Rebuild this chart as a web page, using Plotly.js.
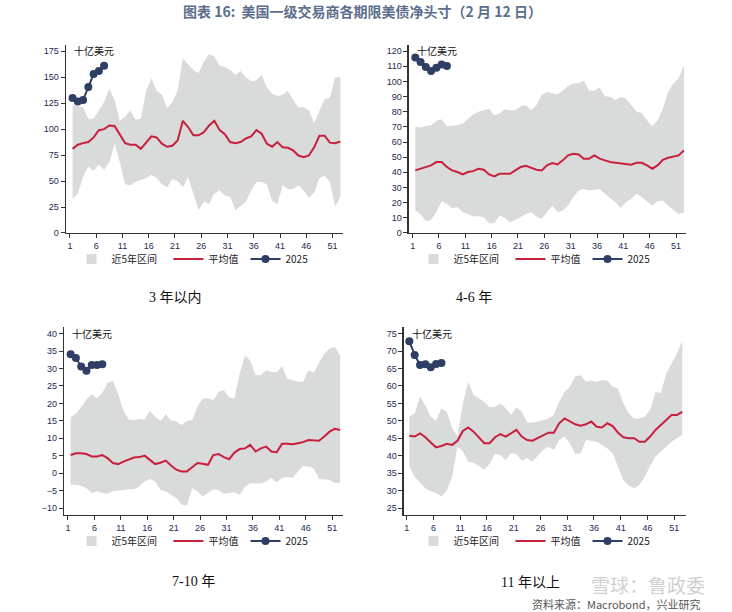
<!DOCTYPE html>
<html>
<head>
<meta charset="utf-8">
<script src="https://cdn.plot.ly/plotly-3.0.1.min.js"></script>
<style>html,body{margin:0;padding:0;background:#fff}</style>
</head>
<body>
<div id="chart" style="width:732px;height:612px"></div>
<script>
/* weekly net positions of primary dealers, by maturity bucket (bn USD) */
var weeks = [];
for (var w = 1; w <= 52; w++) weeks.push(w);
var tickWeeks = [1, 6, 11, 16, 21, 26, 31, 36, 41, 46, 51];

// 3 年以内
var lo1 = [33,38,54,64,60,66,61,68,86,68,47,46,49,51,53,56,53,47,44,52,50,44,54,38,22,30,28,38,41,36,35,22,26,30,41,49,49,47,31,28,46,42,42,46,41,34,39,53,55,49,25,35];
var hi1 = [124,122,121,110,110,118,126,139,128,108,112,118,109,110,137,149,137,133,120,126,137,168,163,157,154,165,172,170,161,160,157,152,156,150,146,147,152,140,134,132,133,137,128,121,121,118,106,118,129,130,150,150];
var avg1 = [81,85,86.5,87.5,92,99,100,103.5,103,95,86.5,85,85,81,87.5,93,92,86,83,84,89,108,102,94,94,97,103.5,108,99,95,87.5,86.5,87.5,91,93,99,95.5,86,83,87.5,82.5,82,79.5,74.6,73,74.6,82.5,93.6,93.6,87,86.5,88];
var y25_1 = [130,126.5,128,140.5,153,156,161];

// 4-6 年
var lo2 = [14.8,12.6,7.7,8.6,13.7,21,19.2,16.5,17,13.7,12.6,10.8,11,10.4,6.4,6.4,11.5,10,7,8.6,10.4,12.6,13.7,10.8,9.3,13.7,18,13.7,14.8,18,23.6,28,29,28,28.7,29,25.8,23.2,20.3,16.5,20.3,22.5,25.8,23.6,21,18,21,21.4,18,15.2,12.6,13.7];
var hi2 = [70,69.5,70.6,71,74,75,70.4,70.6,71,72,75.4,78.3,80,81,82,77.7,78.8,81.6,81,81,83.6,84.4,81,84.4,91,93,92,91.3,93.8,96.9,98.6,99,100.4,94,93.8,96,90.2,89.8,87.6,89.8,88.7,84.4,80,79.2,74.3,70.4,74.3,82,93,98.6,102,110.7];
var avg2 = [41.3,42.4,43,44.6,46.8,46.8,43.5,41.3,40.2,38.6,40.2,40.8,42.4,41.7,38.6,37.3,39,39,39,41.3,43.5,44.3,43,41.7,41.3,44.6,46.1,45.2,47.9,51.2,52.3,51.8,49,49,51.2,49,47.9,46.8,46.3,45.7,45.2,45,46.3,46.3,44.6,42.4,44.6,48.3,49.6,50.5,51.2,54.5];
var y25_2 = [115.8,112.7,109.4,106.8,109,111.2,110.1];

// 7-10 年
var lo3 = [-3.3,-3.3,-3.6,-4.3,-5.7,-5.2,-5.7,-5.9,-5.2,-4.9,-4.8,-4.6,-4.6,-3.8,-2.4,-1.7,-2.4,-4.8,-5.2,-6.2,-7.1,-9,-9.3,-4.3,-5.2,-6.7,-5.7,-4.6,-4.8,-5.9,-5.7,-5.5,-6.2,-3.8,-2.9,-2.9,-3,-2.4,-1.4,-2.7,-1.4,-1.1,-1.4,0.5,2.1,1.9,1.4,-1.7,-1.7,-1.9,-2.9,-2.7];
var hi3 = [16,17.1,18.9,21.1,22.7,21.4,23,25.9,26.5,22.7,17.9,15.4,15.2,15.5,15.4,17.9,16.2,15,16.9,15.2,14.8,13.8,15,15.2,19.2,21.4,21.4,21,23.3,23.8,21.7,21.4,28.6,33.8,32.2,28.1,28.1,29.5,29,29,30.7,27.1,26.7,26.2,26.2,29.5,28.8,31.4,34.3,35.7,36.2,33.8];
var avg3 = [5.2,5.7,5.7,5.5,4.8,4.8,5.2,4.3,2.9,2.6,3.3,3.8,4.5,4.6,5,3.8,2.6,3,3.6,2.2,1,0.5,0.5,1.7,2.9,2.7,2.4,5.2,5.5,4.6,4,5.9,6.9,7.1,8.1,6.2,7.1,7.6,6.2,6,8.4,8.4,8.3,8.6,8.9,9.5,9.3,9.3,10.5,11.9,12.7,12.4];
var y25_3 = [34.1,33,30.6,29.4,31,31,31.2];

// 11 年以上
var lo4 = [36.9,34,32.3,30.7,29.8,29.3,28.3,30,34,42.6,41.2,38.3,37.9,37.1,36,37.7,40.5,40.2,38.8,40.7,40.5,38.6,39.3,38.3,40,41.7,42.6,41.7,44.5,45.5,43.6,40.5,40.7,44.5,44.3,44,43.1,42.1,40.7,36.9,32.9,31.4,30.7,31.7,34,37.1,39.8,41.2,42.6,44,45,46];
var hi4 = [51.2,52.1,56.9,54.5,51.2,50,53.6,52.6,47.9,45.5,55,61.2,57.4,56.4,55.5,53.9,54,55,53.6,51.7,53.9,52.6,49.5,49.5,49.8,50.2,50.7,51.7,55.5,58.3,59.8,62.8,63.1,61.2,61.5,61.2,61.7,61.5,59.8,59.3,55,52.1,50.7,50.7,51.2,53.1,58.3,58,63.6,66.4,69.3,72.9];
var avg4 = [45.7,45.5,46.4,45.3,43.8,42.4,42.8,43.4,43.1,44.3,47.1,48.1,46.9,45.3,43.6,43.6,45.3,46.2,45.5,46.4,47.4,45.5,44.5,44.3,45,45.9,46.6,46.6,49.3,50.7,49.9,49,48.6,49,49.8,48.3,48.1,49.3,48.5,46.6,45.3,45,45,44,44,45.5,47.4,48.8,50.2,51.7,51.7,52.6];
var y25_4 = [72.8,68.9,66,66.2,65.4,66.3,66.6];

var bandName = '近5年区间', avgName = '平均值', curName = '2025';
var unitLabel = '十亿美元';
var panelTitles = ['3 年以内', '4-6 年', '7-10 年', '11 年以上'];

var BAND = '#d9dada', RED = '#c8203c', NAVY = '#2f3e63';
var CJK = '"Noto Sans CJK SC", sans-serif';
var NUM = '"Liberation Sans", Arial, sans-serif';

// points sit in the middle of each week
var xs = weeks.map(function (w) { return w + 0.5; });

var data = [];
function panel(n, lo, hi, avg, cur) {
    var xa = n == 1 ? 'x' : 'x' + n;
    var ya = n == 1 ? 'y' : 'y' + n;
    var leg = n == 1 ? 'legend' : 'legend' + n;
    data.push({x: xs, y: lo, xaxis: xa, yaxis: ya, mode: 'lines', line: {width: 0, color: BAND},
               showlegend: false, hoverinfo: 'skip'});
    data.push({x: xs, y: hi, xaxis: xa, yaxis: ya, mode: 'lines', line: {width: 0, color: BAND},
               fill: 'tonexty', fillcolor: BAND, showlegend: false, hoverinfo: 'skip'});
    // legend entry for the band (square swatch)
    data.push({x: [null], y: [null], xaxis: xa, yaxis: ya, mode: 'markers', name: bandName, legend: leg,
               legendwidth: 52, marker: {symbol: 'square', size: 10, color: BAND}});
    data.push({x: xs, y: avg, xaxis: xa, yaxis: ya, mode: 'lines', name: avgName, legend: leg,
               legendwidth: 32, line: {color: RED, width: 2}});
    data.push({x: xs.slice(0, cur.length), y: cur, xaxis: xa, yaxis: ya, mode: 'lines+markers',
               name: curName, legend: leg, legendwidth: 26,
               line: {color: NAVY, width: 2}, marker: {color: NAVY, size: 8}});
}
panel(1, lo1, hi1, avg1, y25_1);
panel(2, lo2, hi2, avg2, y25_2);
panel(3, lo3, hi3, avg3, y25_3);
panel(4, lo4, hi4, avg4, y25_4);

function xax(dom, rng, yid) {
    return {domain: dom, range: rng, anchor: yid, tickvals: tickWeeks, showline: true, linecolor: '#333',
            linewidth: 1.5, ticks: 'outside', ticklen: 4, tickcolor: '#333', showgrid: false, zeroline: false,
            tickfont: {family: NUM, size: 9, color: '#1c2a52'}, fixedrange: true};
}
function yax(dom, rng, xid, t0, dt) {
    return {domain: dom, range: rng, anchor: xid, tick0: t0, dtick: dt, showline: true, linecolor: '#333',
            linewidth: 1.5, ticks: 'outside', ticklen: 4, tickcolor: '#333', showgrid: false, zeroline: false,
            tickfont: {family: NUM, size: 9, color: '#1c2a52'}, fixedrange: true};
}
function leg(x, y) {
    return {x: x, y: y, xanchor: 'center', yanchor: 'middle', orientation: 'h', traceorder: 'normal',
            bgcolor: 'rgba(0,0,0,0)', font: {family: CJK, size: 10, color: '#222'},
            itemclick: false, itemdoubleclick: false};
}

var topY = [0.6193, 0.9265], botY = [0.1585, 0.4662];
var note = function (x, y, txt, font, xanchor) {
    return {xref: 'paper', yref: 'paper', x: x, y: y, text: txt, showarrow: false, font: font,
            xanchor: xanchor || 'center', yanchor: 'middle'};
};
var unitFont = {family: CJK, size: 10, color: '#111'};
var subFont = {family: '"Liberation Serif", "Noto Sans CJK SC", serif', size: 14, color: '#111'};

var layout = {
    width: 732, height: 612,
    margin: {l: 0, r: 0, t: 0, b: 0},
    paper_bgcolor: '#fff', plot_bgcolor: '#fff',
    xaxis: xax([0.0902, 0.4686], [0.25, 53], 'y'),
    yaxis: yax(topY, [0, 181], 'x', 0, 25),
    xaxis2: xax([0.5587, 0.9372], [0.3, 52.9], 'y2'),
    yaxis2: yax(topY, [0, 124], 'x2', 0, 10),
    xaxis3: xax([0.0878, 0.4690], [0.3, 53.1], 'y3'),
    yaxis3: yax(botY, [-12, 42], 'x3', -10, 5),
    xaxis4: xax([0.5519, 0.9372], [0.5, 53.2], 'y4'),
    yaxis4: yax(botY, [23, 77], 'x4', 25, 5),
    legend: leg(194 / 732, 1 - 259 / 612),
    legend2: leg(536 / 732, 1 - 259 / 612),
    legend3: leg(194 / 732, 1 - 541 / 612),
    legend4: leg(536 / 732, 1 - 541 / 612),
    annotations: [
        note(0.495, 1 - 11 / 612, '图表 16:  美国一级交易商各期限美债净头寸（2 月 12 日）',
             {family: CJK, size: 14, color: '#5b6f8c', weight: 'bold'}),
        note(72 / 732, 1 - 50 / 612, unitLabel, unitFont, 'left'),
        note(415 / 732, 1 - 50 / 612, unitLabel, unitFont, 'left'),
        note(70 / 732, 1 - 333 / 612, unitLabel, unitFont, 'left'),
        note(410 / 732, 1 - 333 / 612, unitLabel, unitFont, 'left'),
        note(175 / 732, 1 - 297 / 612, panelTitles[0], subFont),
        note(474 / 732, 1 - 297 / 612, panelTitles[1], subFont),
        note(193 / 732, 1 - 581 / 612, panelTitles[2], subFont),
        note(530 / 732, 1 - 582 / 612, panelTitles[3], subFont),
        note(648 / 732, 1 - 584 / 612, '雪球：鲁政委', {family: CJK, size: 19, color: '#d0d0d0'}),
        note(703 / 732, 1 - 604 / 612, '资料来源：Macrobond，兴业研究', {family: CJK, size: 11, color: '#555'}, 'right')
    ]
};

Plotly.newPlot('chart', data, layout, {displayModeBar: false, staticPlot: true});
</script>
</body>
</html>
